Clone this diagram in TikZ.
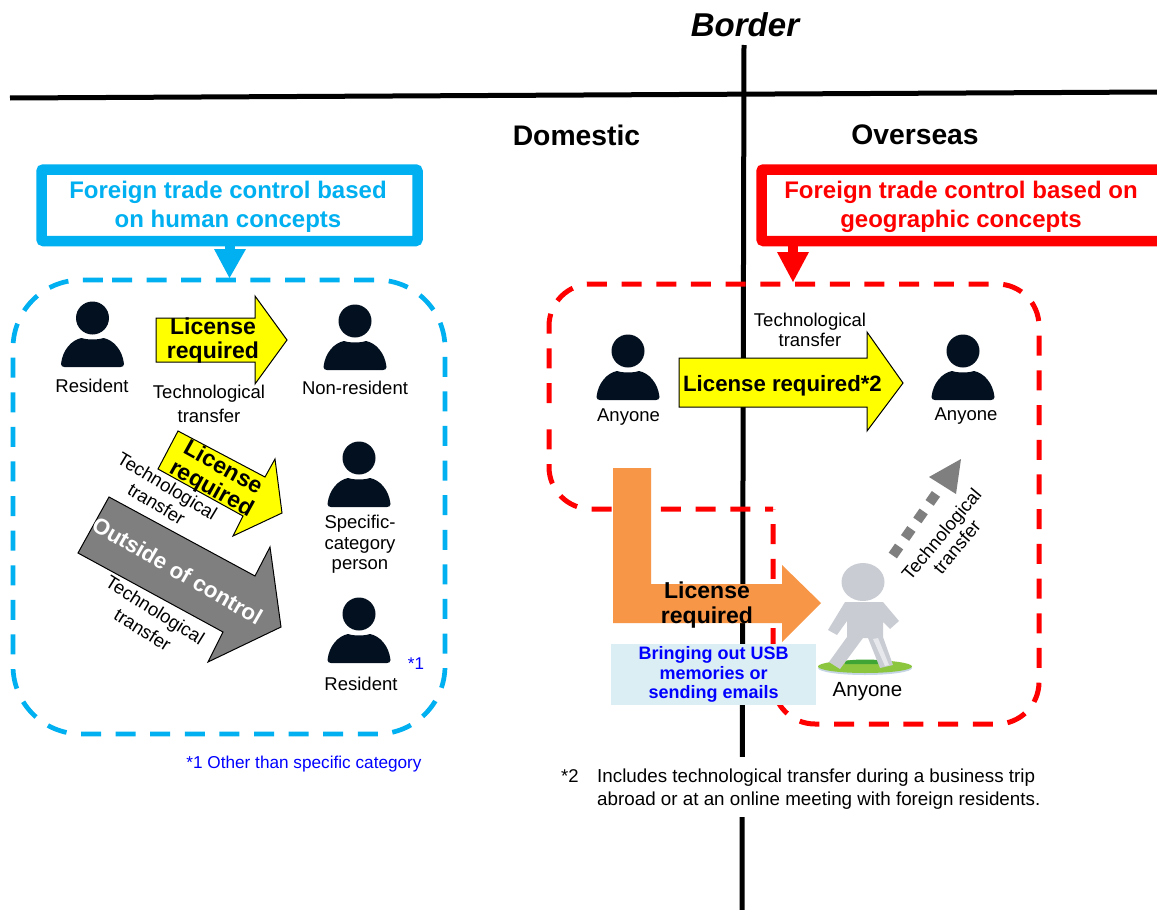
\documentclass[tikz,border=0pt]{standalone}
\usepackage{fontspec}
\setmainfont{Liberation Sans}
\definecolor{cy}{HTML}{00B0F0}
\definecolor{ink}{HTML}{03101F}
\definecolor{org}{HTML}{F79646}
\definecolor{lblue}{HTML}{DAEEF3}
\definecolor{dgray}{HTML}{7F7F7F}
\definecolor{wgray}{HTML}{C9CDD3}
\definecolor{wgreen}{HTML}{8CC63F}
\definecolor{wgreend}{HTML}{3FA535}
\definecolor{wshadow}{HTML}{C5D5E5}
\definecolor{yel}{HTML}{FFFF00}
\definecolor{pred}{HTML}{FF0000}
\definecolor{pblue}{HTML}{0000FF}
\tikzset{
  lab/.style={inner sep=0pt,align=center,font=\fontsize{18.5}{21}\selectfont,text=black},
  bold/.style={inner sep=0pt,align=center,font=\fontsize{23}{24}\bfseries\selectfont,text=black},
  head/.style={inner sep=0pt,align=center,font=\fontsize{24}{29}\bfseries\selectfont},
  side/.style={inner sep=0pt,font=\fontsize{28.3}{30}\bfseries\selectfont},
  blockedge/.style={draw=black,line width=1pt,line join=miter},
  dashcy/.style={draw=cy,line width=4.7pt,dash pattern=on 20pt off 14.6pt},
  dashred/.style={draw=pred,line width=5pt,dash pattern=on 20pt off 14.7pt},
  person/.pic={
    \fill[ink] (0,0) circle[radius=16.5];
    \fill[ink] (-31.5,46) .. controls (-30,32) and (-21,22) .. (-11,20)
      .. controls (-5,22) and (5,22) .. (11,20)
      .. controls (21,22) and (30,32) .. (31.5,46)
      .. controls (31.5,48) and (30,49) .. (28,49) -- (-28,49)
      .. controls (-30,49) and (-31.5,48) .. (-31.5,46) -- cycle;
  }
}
\begin{document}
\begin{tikzpicture}[x=1pt,y=-1pt]
\useasboundingbox (0,0) rectangle (1157,910);
\fill[white] (0,0) rectangle (1157,910);
% axes
\coordinate (bt) at (744,45); \coordinate (bb) at (742,910);
\coordinate (hl) at (10,98); \coordinate (hr) at (1157,92);
\draw[line width=5pt] (bt) -- (bb);
\draw[line width=5pt] (hl) -- (hr);
\node[inner sep=0pt,font=\fontsize{33}{36}\bfseries\itshape\selectfont] (border) at (745,25) {Border};
\node[side] (dom) at (576.5,135) {Domestic};
\node[side] (ovs) at (915,135) {Overseas};
% dashed frames
\draw[dashcy,rounded corners=68pt] (112,280) -- (445,280) -- (445,734) -- (13,734) -- (13,280) -- (112,280);
\draw[dashred,rounded corners=42pt,dash phase=12pt] (773,509) -- (549,509) -- (549,420);
\draw[dashred,rounded corners=42pt] (549,403) -- (549,284) -- (1039,284) -- (1039,724) -- (773,724) -- (773,509);
% header boxes
\fill[cy] (225,244) rectangle (235,250);
\fill[cy] (229.5,278) -- (214,249) -- (246,249) -- cycle;
\fill[pred] (788,244) rectangle (798,253);
\fill[pred] (793,282) -- (777,252) -- (809,252) -- cycle;
\draw[cy,line width=10.5pt,fill=white,rounded corners=2pt] (41.5,169.5) rectangle (417.5,241);
\node[head,text=cy] (htext) at (228,206.5) {Foreign trade control based\\on human concepts};
\draw[pred,line width=10.5pt,fill=white,rounded corners=2pt] (1175,169.5) -- (761.5,169.5) -- (761.5,241) -- (1175,241);
\node[head,text=pred] (rtext) at (961,206.5) {Foreign trade control based on\\geographic concepts};
% left persons
\pic at (92.5,318) {person};
\pic at (355,321) {person};
\pic at (359,458) {person};
\pic at (359,614) {person};
\node[lab] (l1) at (92,385.5) {Resident};
\node[lab] (l2) at (355,388) {Non-resident};
\node[lab,font=\fontsize{18.5}{20.5}\selectfont] (l3) at (360,544.5) {Specific-\\category\\person};
\node[lab] (l4) at (361,684) {Resident};
\node[inner sep=0pt,text=pblue,font=\fontsize{17}{18}\selectfont] (s1) at (416,664) {*1};
% left arrows
\path[blockedge,fill=yel] (156,318) -- (255,318) -- (255,296) -- (287,340) -- (255,384) -- (255,362) -- (156,362) -- cycle;
\node[bold] (a1) at (213,341) {License\\required};
\node[lab,font=\fontsize{18.5}{23.5}\selectfont] (t1) at (209,404) {Technological\\transfer};
\path[blockedge,fill=yel] (178,431) -- (265,477) -- (275,459) -- (282,513) -- (233,536) -- (243,516) -- (158,469) -- cycle;
\node[bold,rotate=-29] (a2) at (217,479) {License\\required};
\node[lab,rotate=-31] (t2) at (162,495) {Technological\\transfer};
\path[blockedge,fill=dgray] (109,497) -- (255,576) -- (270,547) -- (281,627) -- (208,662) -- (223,632) -- (78,553) -- cycle;
\node[bold,rotate=-30,text=white,font=\fontsize{22.3}{24}\bfseries\selectfont] (a3) at (177.5,570.5) {Outside of control};
\node[lab,rotate=-32,font=\fontsize{18.5}{23.5}\selectfont] (t3) at (149,620) {Technological\\transfer};
\node[inner sep=0pt,text=pblue,font=\fontsize{17.2}{18}\selectfont] (n1) at (304,764) {*1 Other than specific category};
% right persons
\pic at (628,351) {person};
\pic at (963,351) {person};
\node[lab] (l5) at (628.5,417) {Anyone};
\node[lab] (l6) at (966,416) {Anyone};
\path[blockedge,fill=yel] (679,358) -- (867,358) -- (867,332) -- (903,383) -- (867,431) -- (867,407) -- (679,407) -- cycle;
\node[bold,font=\fontsize{22.2}{24}\bfseries\selectfont] (a4) at (782.5,386) {License required*2};
\node[lab,font=\fontsize{18.5}{20}\selectfont] (t4) at (810,330) {Technological\\transfer};
% orange
\fill[org] (613,468) -- (651,468) -- (651,584) -- (782,584) -- (782,565) -- (821,603) -- (782,642) -- (782,623) -- (613,623) -- cycle;
\node[bold,font=\fontsize{23}{25}\bfseries\selectfont] (a5) at (707,605) {License\\required};
\node[fill=lblue,minimum width=205pt,minimum height=61pt,inner sep=0pt,anchor=north west,align=center,text=pblue,font=\fontsize{18}{19.5}\bfseries\selectfont] (usb) at (611,644) {Bringing out USB\\memories or\\sending emails};
% walker
\fill[wshadow] (865,668) ellipse[x radius=47,y radius=7];
\fill[wgreen] (865,666.5) ellipse[x radius=47,y radius=6.5];
\fill[wgreend] (845,661) .. controls (855,659) and (872,659) .. (890,661) -- (890,664) -- (845,664) -- cycle;
\fill[wgray] (863,582) ellipse[x radius=21.5,y radius=19];
\fill[wgray] (845,602) -- (883,602) -- (899,621) -- (890,629) -- (883,622) -- (883,637) -- (893,665) -- (880,668) -- (868,638) -- (863,638) -- (840,669) -- (829,662) -- (847,637) -- (847,621) -- (837,635) -- (828,630) -- cycle;
\fill[white,opacity=.55] (873,639) -- (878,638) -- (889,665) -- (885,666) -- cycle;
\node[lab,font=\fontsize{20.5}{22}\selectfont] (l7) at (867.5,692) {Anyone};
% gray dashed arrow
\coordinate (g0) at (892.8,555.5); \coordinate (g1) at (936.2,493.5);
\draw[dgray,line width=10pt,dash pattern=on 11pt off 10.4pt] (g0) -- (g1);
\fill[dgray] (961,459) -- (929,477) -- (956,494) -- cycle;
\node[lab,rotate=50,font=\fontsize{18.5}{20}\selectfont] (t5) at (949,540.5) {Technological\\transfer};
% note
\node[fill=white,inner sep=0pt,anchor=north west,minimum width=485pt,minimum height=60pt] (nb) at (560,757) {};
\node[inner sep=0pt,anchor=west,font=\fontsize{18.5}{22}\selectfont] (n2a) at (561,776) {*2};
\node[inner sep=0pt,anchor=west,align=left,font=\fontsize{18.8}{23}\selectfont] (n2b) at (597,789) {Includes technological transfer during a business trip\\abroad or at an online meeting with foreign residents.};
\end{tikzpicture}
\end{document}
